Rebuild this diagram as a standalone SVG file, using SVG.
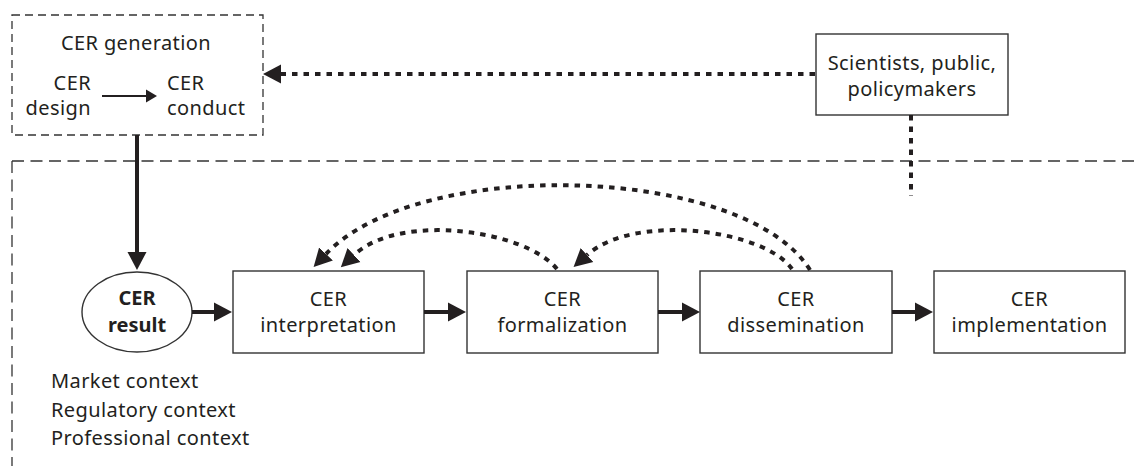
<svg xmlns="http://www.w3.org/2000/svg" width="1139" height="466" viewBox="0 0 1139 466">
<style>
text{font-family:"Noto Sans","Open Sans",sans-serif;font-size:20px;fill:#231f20;letter-spacing:0.4px}
.c{text-anchor:middle}
.b{font-weight:bold;letter-spacing:0}
.box{fill:#fff;stroke:#333;stroke-width:1.4}
.frame{fill:none;stroke:#333;stroke-width:1.3}
.solid{fill:none;stroke:#231f20;stroke-width:4}
.thin{fill:none;stroke:#231f20;stroke-width:2.2}
.dot{fill:none;stroke:#231f20;stroke-width:4;stroke-dasharray:5.5 6}
</style>
<defs>
<marker id="ah" markerUnits="userSpaceOnUse" markerWidth="20" markerHeight="22" refX="0" refY="10" orient="auto" viewBox="0 0 20 22"><path d="M0,0.5 L18,10 L0,19.5 z" fill="#231f20"/></marker>
<marker id="ahs" markerUnits="userSpaceOnUse" markerWidth="12" markerHeight="14" refX="0" refY="7" orient="auto" viewBox="0 0 12 14"><path d="M0,0.5 L11,7 L0,13.5 z" fill="#231f20"/></marker>
</defs>
<g id="frames">
<rect class="frame" x="12" y="15" width="251" height="120" style="stroke-dasharray:8 5"/>
<path class="frame" d="M12 161 H1139 M12 161 V466" style="stroke-dasharray:12 6.5"/>
</g>
<g id="generation">
<text class="c" x="136" y="50">CER generation</text>
<text x="91" y="90" text-anchor="end">CER</text>
<text x="91" y="115" text-anchor="end">design</text>
<text x="167" y="90">CER</text>
<text x="167" y="115">conduct</text>
</g>
<g id="scientists">
<rect class="box" x="816" y="34" width="192" height="81"/>
<text class="c" x="912" y="70">Scientists, public,</text>
<text class="c" x="912" y="96">policymakers</text>
</g>
<g id="result">
<ellipse cx="137" cy="312" rx="55" ry="40" fill="#fff" stroke="#333" stroke-width="1.4"/>
<text class="c b" x="137" y="305">CER</text>
<text class="c b" x="137" y="332">result</text>
</g>
<g id="interpretation">
<rect class="box" x="233" y="271" width="191" height="82"/>
<text class="c" x="328.5" y="306">CER</text>
<text class="c" x="328.5" y="332">interpretation</text>
</g>
<g id="formalization">
<rect class="box" x="467" y="271" width="191" height="82"/>
<text class="c" x="562.5" y="306">CER</text>
<text class="c" x="562.5" y="332">formalization</text>
</g>
<g id="dissemination">
<rect class="box" x="700" y="271" width="192" height="82"/>
<text class="c" x="796" y="306">CER</text>
<text class="c" x="796" y="332">dissemination</text>
</g>
<g id="implementation">
<rect class="box" x="934" y="271" width="191" height="82"/>
<text class="c" x="1029.5" y="306">CER</text>
<text class="c" x="1029.5" y="332">implementation</text>
</g>
<g id="context">
<text x="51" y="388">Market context</text>
<text x="51" y="417">Regulatory context</text>
<text x="51" y="445">Professional context</text>
</g>
<g id="connectors">
<path class="thin" d="M102 96 H146" marker-end="url(#ahs)"/>
<path class="solid" d="M137 135 V252" marker-end="url(#ah)"/>
<path class="solid" d="M192 312 H214" marker-end="url(#ah)"/>
<path class="solid" d="M424 312 H448" marker-end="url(#ah)"/>
<path class="solid" d="M658 312 H682" marker-end="url(#ah)"/>
<path class="solid" d="M892 312 H915" marker-end="url(#ah)"/>
<path class="dot" d="M815 74 H281" marker-end="url(#ah)"/>
<path class="dot" d="M911 115 V196"/>
<path class="dot" d="M810 270 C745 165 420 155 326 254" marker-end="url(#ah)"/>
<path class="dot" d="M557 269 C525 230 400 212 354 255" marker-end="url(#ah)"/>
<path class="dot" d="M792 269 C765 230 635 212 587 255" marker-end="url(#ah)"/>
</g>
</svg>
